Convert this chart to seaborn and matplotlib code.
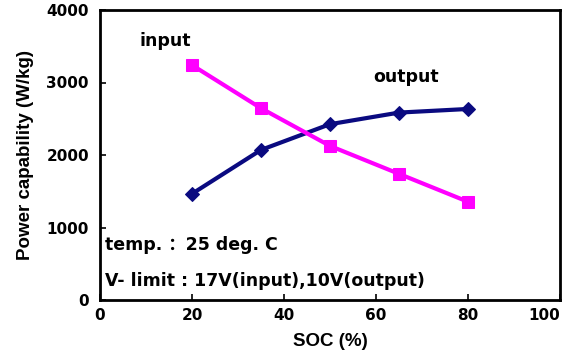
import matplotlib
matplotlib.use("Agg")
import matplotlib.pyplot as plt
import seaborn as sns
import pandas as pd

soc = [20, 35, 50, 65, 80]
output_power = [1465, 2070, 2425, 2585, 2635]
input_power = [3240, 2645, 2125, 1740, 1355]
x_ticks = [0, 20, 40, 60, 80, 100]
y_ticks = [0, 1000, 2000, 3000, 4000]

sns.set_theme(style="white")
plt.rcParams['font.family'] = ['DejaVu Sans', 'Noto Sans CJK SC']
plt.rcParams['font.weight'] = 'bold'
plt.rcParams['text.color'] = 'black'
plt.rcParams['axes.labelcolor'] = 'black'

wide = ['DejaVu Sans', 'Noto Sans CJK SC']
narrow = ['Liberation Sans', 'DejaVu Sans']

df = pd.DataFrame({
    "SOC": soc * 2,
    "power": output_power + input_power,
    "series": ["output"] * len(soc) + ["input"] * len(soc),
})

fig = plt.figure(figsize=(5.66, 3.63), dpi=100)
ax = fig.add_axes([100/566, 63/363, 460/566, 290/363])

sns.lineplot(data=df[df.series == "output"], x="SOC", y="power", ax=ax,
             color="#0a0a80", lw=3, marker="D", markersize=7,
             markeredgecolor="#0a0a80", legend=False)
sns.lineplot(data=df[df.series == "input"], x="SOC", y="power", ax=ax,
             color="#ff00ff", lw=3, marker="s", markersize=9,
             markeredgecolor="#ff00ff", legend=False)

ax.set_xlim(0, 100)
ax.set_ylim(0, 4000)
ax.set_xticks(x_ticks)
ax.set_yticks(y_ticks)
ax.set_xticklabels([str(v) for v in x_ticks], fontsize=11, fontweight='bold', family=wide)
ax.set_yticklabels([str(v) for v in y_ticks], fontsize=11, fontweight='bold', family=wide)
ax.get_xticklabels()[-1].set_ha('right')
ax.tick_params(axis='both', which='both', direction='in', length=4, width=1.2,
               bottom=True, left=True, top=False, right=False, colors='black', pad=6)
ax.tick_params(axis='y', pad=8)
for s in ax.spines.values():
    s.set_color('black')
    s.set_linewidth(2)

ax.set_xlabel("SOC (%)", fontsize=13.5, fontweight='bold', labelpad=7, family=narrow)
ax.set_ylabel("Power capability (W/kg)", fontsize=13.5, fontweight='bold', labelpad=9, family=narrow)

ax.text(8.5, 3570, "input", fontsize=12.5, fontweight='bold', ha='left', va='center', family=wide)
ax.text(59.5, 3080, "output", fontsize=12.5, fontweight='bold', ha='left', va='center', family=wide)
ax.text(1.0, 760, "temp. ：25 deg. C", fontsize=12.5, fontweight='bold', ha='left', va='center', family=wide)
ax.text(1.0, 260, "V- limit : 17V(input),10V(output)", fontsize=12.5, fontweight='bold', ha='left', va='center', family=wide)

fig.savefig("out.png", dpi=100)
